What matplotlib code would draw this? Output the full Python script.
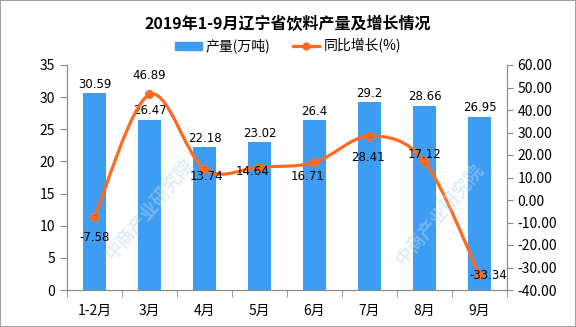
import numpy as np
import matplotlib
matplotlib.use('Agg')
from matplotlib import pyplot as plt
from matplotlib.path import Path
import matplotlib.patches as mpatches
from matplotlib.lines import Line2D

plt.rcParams['font.family'] = ['Noto Sans CJK SC', 'DejaVu Sans']

# data
months = ['1-2月', '3月', '4月', '5月', '6月', '7月', '8月', '9月']
output = [30.59, 26.47, 22.18, 23.02, 26.4, 29.2, 28.66, 26.95]
growth = [-7.58, 46.89, 13.74, 14.64, 16.71, 28.41, 17.12, -33.34]
output_labels = ['30.59', '26.47', '22.18', '23.02', '26.4', '29.2', '28.66', '26.95']

# label offsets of the growth values, in pixels
growth_offsets = [(0, -20), (0, 19), (2, -7), (-7, -4), (-7, -14), (-2, -21), (0, 7), (9, 0)]

C_bar = '#3d9df2'
C_line = '#ff6a1e'
C_axis = '#8c8c8c'


def smooth_path(x, y):
    """ catmull-rom curve through the points, as bezier segments """
    pts = np.column_stack([x, y]).astype(float)
    ext = np.vstack([pts[0], pts, pts[-1]])
    verts = [pts[0]]
    codes = [Path.MOVETO]
    for i in range(len(pts) - 1):
        p0, p1, p2, p3 = ext[i], ext[i + 1], ext[i + 2], ext[i + 3]
        verts += [p1 + (p2 - p0) / 6., p2 - (p3 - p1) / 6., p2]
        codes += [Path.CURVE4] * 3
    return Path(verts, codes)


fig = plt.figure(figsize=(5.76, 3.27), dpi=100)
ax = fig.add_axes([67 / 576, 1 - 290 / 327, 440 / 576, 225 / 327])
ax2 = ax.twinx()

x = np.arange(len(months))
ax.bar(x, output, width=0.41, color=C_bar, zorder=2)
for xi, v, s in zip(x, output, output_labels):
    ax.annotate(s, (xi, v), xytext=(0, 9), textcoords='offset pixels',
                ha='center', va='center', fontsize=8.5, family='DejaVu Sans')

ax.set_xlim(-0.5, len(months) - 0.5)
ax.set_ylim(0, 35)
ax.set_yticks(np.arange(0, 36, 5))
ax.set_xticks(x)
ax.set_xticklabels(months, fontsize=10)
ax.set_xticks(np.arange(-0.5, len(months)), minor=True)
ax.tick_params(axis='x', which='major', length=0, pad=10)
ax.tick_params(axis='x', which='minor', length=5, color=C_axis)
ax.tick_params(axis='y', length=5, color=C_axis, labelsize=10)

ax2.set_ylim(-40, 60)
ax2.set_yticks(np.arange(-40, 61, 10))
ax2.set_yticklabels(['%.2f' % t for t in np.arange(-40, 61, 10)], fontsize=10)
ax2.tick_params(axis='y', length=4, color=C_axis)

for a in (ax, ax2):
    a.spines['top'].set_visible(False)
    for s in ('left', 'right', 'bottom'):
        a.spines[s].set_color(C_axis)

ax2.add_patch(mpatches.PathPatch(smooth_path(x, growth), fill=False,
                                 edgecolor=C_line, lw=2.3, zorder=3))
ax2.plot(x, growth, 'o', color=C_line, markersize=5.5, zorder=4)
for xi, v, off in zip(x, growth, growth_offsets):
    ax2.annotate('%.2f' % v, (xi, v), xytext=off, textcoords='offset pixels',
                 ha='center', va='center', fontsize=8.5, family='DejaVu Sans', zorder=5)

fig.text(0.5, 1 - 24 / 327, '2019年1-9月辽宁省饮料产量及增长情况',
         ha='center', va='center', fontsize=11.5, fontweight='bold')

handles = [mpatches.Patch(color=C_bar, label='产量(万吨)'),
           Line2D([], [], color=C_line, lw=2.3, marker='o', markersize=5, label='同比增长(%)')]
fig.legend(handles=handles, loc='center', bbox_to_anchor=(0.5, 1 - 46 / 327), ncol=2,
           frameon=False, fontsize=10, handlelength=1.9, handleheight=0.5,
           columnspacing=1.6, handletextpad=0.3)

# faint watermark
for wx, wy in [(150, 210), (440, 215)]:
    fig.text(wx / 576, 1 - wy / 327, '中商产业研究院', rotation=50, ha='center', va='center',
             fontsize=13, fontweight='bold', color='#b9d7ee', alpha=0.45)

fig.patches.append(mpatches.Rectangle((0, 0), 1, 1, transform=fig.transFigure,
                                      fill=False, edgecolor='#a0a0a0', lw=1.5))

fig.savefig('out.png', dpi=100)
